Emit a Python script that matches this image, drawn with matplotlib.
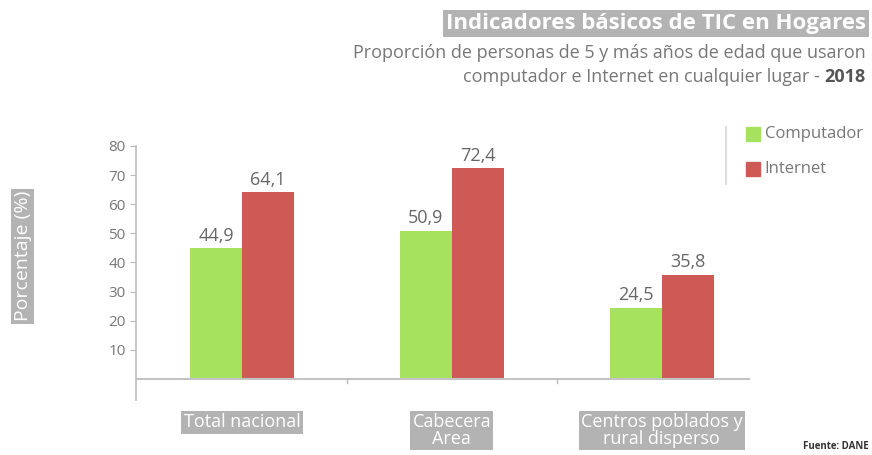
import numpy as np
import matplotlib.pyplot as plt

categorias = ['Total nacional', 'Cabecera\nArea', 'Centros poblados y\nrural disperso']
computador = [44.9, 50.9, 24.5]
internet = [64.1, 72.4, 35.8]
yticks = [10, 20, 30, 40, 50, 60, 70, 80]

verde = '#a6e25e'
rojo = '#cf5a55'
gris = '#777777'
caja = '#b3b3b3'
fuente = ['Open Sans', 'DejaVu Sans']

fig = plt.figure(figsize=(8.72, 4.55), dpi=100)
ax = fig.add_axes([0.156, 0.121, 0.704, 0.5615])

x = np.arange(len(categorias))
w = 0.248
b1 = ax.bar(x - w / 2, computador, w, color=verde)
b2 = ax.bar(x + w / 2, internet, w, color=rojo)

for bars, vals in ((b1, computador), (b2, internet)):
    for r, v in zip(bars, vals):
        ax.text(r.get_x() + r.get_width() / 2, v + 1.2, f'{v:.1f}'.replace('.', ','),
                ha='center', va='bottom', fontsize=13, color='#666666', family=fuente)

ax.set_xlim(-0.505, 2.42)
ax.set_ylim(-7.2, 80.5)
ax.axhline(0, color='#c4c4c4', lw=1.5)
for s in ['top', 'right', 'bottom']:
    ax.spines[s].set_visible(False)
ax.spines['left'].set_color('#bbbbbb')
ax.spines['left'].set_linewidth(1.2)
ax.spines['left'].set_bounds(-7.2, 80)
ax.set_yticks(yticks)
ax.tick_params(axis='y', colors='#bbbbbb', labelcolor=gris, length=4, labelsize=11)
for t in ax.get_yticklabels():
    t.set_family(fuente)
ax.set_xticks([])
for xs in [0.5, 1.5]:
    ax.plot([xs, xs], [0, -1.3], color='#bbbbbb', lw=1)

for xi, c in zip(x, categorias):
    ax.text(xi, -11.8, c, ha='center', va='top', fontsize=13, color='white',
            family=fuente, linespacing=0.9,
            bbox=dict(boxstyle='square,pad=0.12', fc=caja, ec='none'))

fig.text(0.026, 0.437, 'Porcentaje (%)', rotation=90, ha='center', va='center',
         fontsize=14, color='white', family=fuente,
         bbox=dict(boxstyle='square,pad=0.12', fc=caja, ec='none'))

fig.text(0.993, 0.948, 'Indicadores básicos de TIC en Hogares', ha='right', va='center',
         fontsize=16, fontweight='bold', color='white', family=fuente,
         bbox=dict(boxstyle='square,pad=0.15', fc=caja, ec='none'))
fig.text(0.993, 0.884, 'Proporción de personas de 5 y más años de edad que usaron',
         ha='right', va='center', fontsize=13, color=gris, family=fuente)
t2 = fig.text(0.993, 0.831, '2018', ha='right', va='center', fontsize=13,
              fontweight='bold', color='#555555', family=fuente)
fig.canvas.draw()
bb = t2.get_window_extent()
fig.text(bb.x0 / fig.bbox.width, 0.831, 'computador e Internet en cualquier lugar - ',
         ha='right', va='center', fontsize=13, color=gris, family=fuente)

# leyenda
fig.add_artist(plt.Line2D([0.832, 0.832], [0.595, 0.72], color='#dddddd', lw=1.5))
for yy, col, lab in ((0.705, verde, 'Computador'), (0.628, rojo, 'Internet')):
    fig.add_artist(plt.Rectangle((0.855, yy - 0.015), 0.017, 0.031, color=col))
    fig.text(0.877, yy, lab, ha='left', va='center', fontsize=12, color=gris, family=fuente)

fig.text(0.996, 0.006, 'Fuente: DANE', ha='right', va='bottom', fontsize=7,
         fontweight='bold', color='#333333', family=fuente)

fig.savefig('out.png', dpi=100)
